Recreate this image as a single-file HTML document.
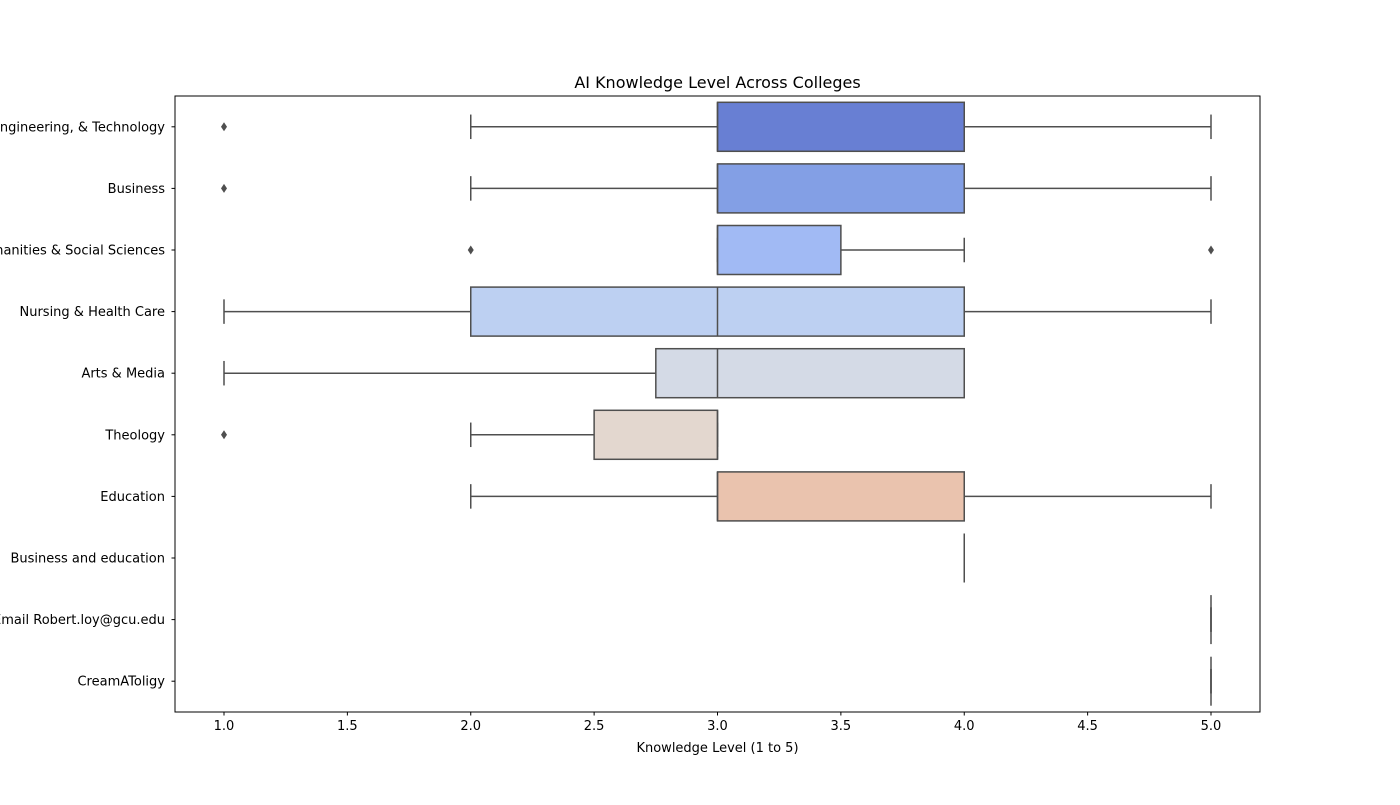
<!DOCTYPE html>
<html><head><meta charset="utf-8"><style>
body{margin:0;background:#fff;width:1400px;height:800px;overflow:hidden}
svg text{font-family:"DejaVu Sans","Liberation Sans",sans-serif;fill:#000}
</style></head><body>
<svg id="c" width="1400" height="800"></svg>
<script>
const categories=["Science, Engineering, & Technology","Business","Humanities & Social Sciences","Nursing & Health Care","Arts & Media","Theology","Education","Business and education","Email Robert.loy@gcu.edu","CreamAToligy"];
const q1=[3,3,3,2,2.75,2.5,3,4,5,5];
const med=[3,3,3,3,3,3,3,4,5,5];
const q3=[4,4,3.5,4,4,3,4,4,5,5];
const whisLo=[2,2,3,1,1,2,2,4,5,5];
const whisHi=[5,5,4,5,4,3,5,4,5,5];
const fliers=[[1],[1],[2,5],[],[],[1],[],[],[],[]];
const colors=["#687fd3","#839fe5","#a1baf4","#bdd0f2","#d4dae6","#e3d7cf","#eac3ae","#f0b498","#f29b7c","#e57058"];
const xTicks=[1.0,1.5,2.0,2.5,3.0,3.5,4.0,4.5,5.0];
const L=175,R=1260,T=96,B=712;
const sx=v=>224+(v-1)*246.75;
const rowH=(B-T)/categories.length;
const sy=i=>T+rowH*(i+0.5);
const svg=document.getElementById('c');
const NS='http://www.w3.org/2000/svg';
function mk(tag,attrs,parent){const e=document.createElementNS(NS,tag);for(const k in attrs)e.setAttribute(k,attrs[k]);(parent||svg).appendChild(e);return e;}
const EC='#4f4f4f';
let t=mk('text',{x:(L+R)/2,y:88,'text-anchor':'middle','font-size':'16'});t.textContent='AI Knowledge Level Across Colleges';


categories.forEach((c,i)=>{
 const y=sy(i);const g=mk('g',{});
 
 
 const h=49;
 mk('line',{x1:sx(whisLo[i]),x2:sx(q1[i]),y1:y,y2:y,stroke:EC,'stroke-width':1.5},g);
 mk('line',{x1:sx(q3[i]),x2:sx(whisHi[i]),y1:y,y2:y,stroke:EC,'stroke-width':1.5},g);
 mk('line',{x1:sx(whisLo[i]),x2:sx(whisLo[i]),y1:y-h/4,y2:y+h/4,stroke:EC,'stroke-width':1.5},g);
 mk('line',{x1:sx(whisHi[i]),x2:sx(whisHi[i]),y1:y-h/4,y2:y+h/4,stroke:EC,'stroke-width':1.5},g);
 mk('rect',{x:sx(q1[i]),y:y-h/2,width:Math.max(0,sx(q3[i])-sx(q1[i])),height:h,fill:colors[i],stroke:EC,'stroke-width':1.5},g);
 mk('line',{x1:sx(med[i]),x2:sx(med[i]),y1:y-h/2,y2:y+h/2,stroke:EC,'stroke-width':1.5},g);
 fliers[i].forEach(f=>{const d=mk('path',{d:`M${sx(f)} ${y-4.5}L${sx(f)+3} ${y}L${sx(f)} ${y+4.5}L${sx(f)-3} ${y}Z`,fill:EC},g);
  
  });
 mk('line',{x1:L-3.5,x2:L,y1:y,y2:y,stroke:'#000','stroke-width':1});
 const lb=mk('text',{x:L-10,y:y+4.5,'text-anchor':'end','font-size':'13'});lb.textContent=c;
 
 
});
xTicks.forEach(v=>{
 mk('line',{x1:sx(v),x2:sx(v),y1:B,y2:B+3.5,stroke:'#000','stroke-width':1});
 const lb=mk('text',{x:sx(v),y:B+18,'text-anchor':'middle','font-size':'13'});lb.textContent=v.toFixed(1);
 
 
});
const fr=mk('rect',{x:L,y:T,width:R-L,height:B-T,fill:'none',stroke:'#000','stroke-width':1});


const xl=mk('text',{x:(L+R)/2,y:752,'text-anchor':'middle','font-size':'13'});xl.textContent='Knowledge Level (1 to 5)';


</script>
</body></html>
